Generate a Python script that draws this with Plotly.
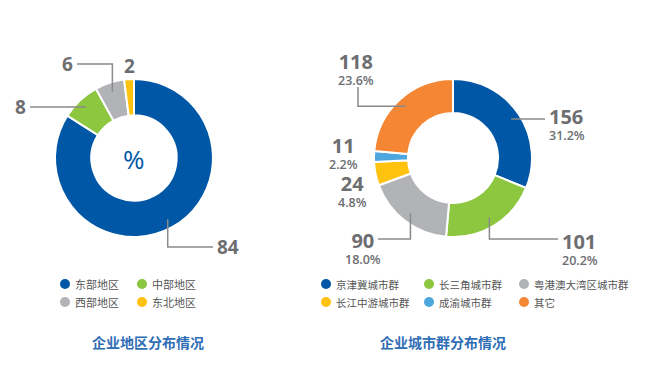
import math
import plotly.graph_objects as go

W, H = 655, 381

# ---------------- data ----------------
regions = ["东部地区", "中部地区", "西部地区", "东北地区"]
region_pct = [84, 8, 6, 2]
region_colors = ["#0057a6", "#8dc63f", "#b1b3b6", "#ffc20e"]

clusters = ["京津冀城市群", "长三角城市群", "粤港澳大湾区城市群", "长江中游城市群", "成渝城市群", "其它"]
cluster_counts = [156, 101, 90, 24, 11, 118]
cluster_pct = [31.2, 20.2, 18.0, 4.8, 2.2, 23.6]
cluster_colors = ["#0057a6", "#8dc63f", "#b1b3b6", "#ffc20e", "#4da6dd", "#f58634"]

titles = ["企业地区分布情况", "企业城市群分布情况"]

# ---------------- layout constants ----------------
LC = (134, 158)   # left donut centre (px)
RC = (453, 158)   # right donut centre (px)
R = 79
TXT = "#6d6e71"
LINE = "#8a8a8a"
FONT = "Open Sans"
CJK = "Noto Sans CJK SC"


def dom(c, r):
    return dict(x=[(c[0] - r) / W, (c[0] + r) / W], y=[1 - (c[1] + r) / H, 1 - (c[1] - r) / H])


fig = go.Figure()
fig.add_trace(go.Pie(labels=regions, values=region_pct, sort=False, direction="clockwise",
                     hole=0.54, textinfo="none", hoverinfo="label+value",
                     marker=dict(colors=region_colors, line=dict(color="white", width=2)),
                     domain=dom(LC, R), showlegend=False))
fig.add_trace(go.Pie(labels=clusters, values=cluster_counts, sort=False, direction="clockwise",
                     hole=0.57, textinfo="none", hoverinfo="label+value",
                     marker=dict(colors=cluster_colors, line=dict(color="white", width=2)),
                     domain=dom(RC, R), showlegend=False))


def mid_points(values, c, r):
    tot = sum(values)
    pts, cum = [], 0
    for v in values:
        a = math.radians((cum + v / 2) / tot * 360)
        pts.append((c[0] + r * math.sin(a), c[1] - r * math.cos(a)))
        cum += v
    return pts


shapes, annos = [], []


def leader(start, route):
    x, y = start
    d = f"M{x},{y}"
    for kind, val in route:
        if kind == "h":
            x = val
        else:
            y = val
        d += f" L{x},{y}"
    shapes.append(dict(type="path", path=d, xref="x", yref="y",
                       line=dict(color=LINE, width=1.5), layer="above"))


def label(x, y, text, size, anchor, weight=700):
    annos.append(dict(x=x, y=y, xref="x", yref="y", text=text, showarrow=False,
                      xanchor=anchor, yanchor="middle", align=anchor if anchor != "center" else "center",
                      font=dict(family=FONT, size=size, color=TXT, weight=weight)))


# left donut leaders / labels
lp = mid_points(region_pct, LC, 70)
left_routes = [[("v", 247), ("h", 213)], [("h", 30)], [("v", 64), ("h", 77)], None]
left_lbl = [(215, 247, "left"), (28, None, "right"), (75, 64, "right"), (129, 66, "center")]
for i, v in enumerate(region_pct):
    if left_routes[i]:
        leader(lp[i], left_routes[i])
    lx, ly, anc = left_lbl[i]
    label(lx, ly if ly is not None else lp[i][1], str(v), 19, anc)

annos.append(dict(x=LC[0], y=LC[1] + 1, xref="x", yref="y", text="%", showarrow=False,
                  font=dict(family=FONT, size=26, color="#0057a6")))

# right donut leaders / labels
rp = mid_points(cluster_counts, RC, 70)
right_routes = [[("h", 545)], [("v", 239), ("h", 558)], [("v", 239), ("h", 378)],
                None, None, [("h", 358), ("v", 87)]]
right_lbl = [(547, None, "left"), (560, 241, "left"), (363, 240, "center"),
             (352, 183, "center"), (343, 145, "center"), (356, 61, "center")]
for i, v in enumerate(cluster_counts):
    if right_routes[i]:
        leader(rp[i], right_routes[i])
    lx, ly, anc = right_lbl[i]
    ly = ly if ly is not None else rp[i][1] - 3
    txt = f"<span style='font-size:20px;font-weight:700'>{v}</span><br>{cluster_pct[i]:.1f}%"
    label(lx, ly + 7, txt, 12.5, anc, weight=600)

# legends
def legend(names, colors, col_x, row_y, ncols, fsize, gap):
    xs, ys = [], []
    for i, n in enumerate(names):
        x = col_x[i % ncols]
        y = row_y[i // ncols]
        xs.append(x)
        ys.append(y)
        annos.append(dict(x=x + gap, y=y, xref="x", yref="y", text=n, showarrow=False,
                          xanchor="left", yanchor="middle",
                          font=dict(family=CJK, size=fsize, color="#555555")))
    fig.add_trace(go.Scatter(x=xs, y=ys, mode="markers", hoverinfo="skip", showlegend=False,
                             marker=dict(size=10, color=colors, line=dict(width=0))))


legend(regions, region_colors, [65, 142], [284, 302], 2, 11, 8)
legend(clusters, cluster_colors, [326, 429, 524], [284, 302], 3, 10.5, 8)

for t, x in zip(titles, [148, 443]):
    annos.append(dict(x=x, y=342, xref="x", yref="y", text=t, showarrow=False,
                      font=dict(family=CJK, size=14, color="#2f6db5", weight=700)))

fig.update_layout(
    width=W, height=H, margin=dict(l=0, r=0, t=0, b=0),
    paper_bgcolor="white", plot_bgcolor="rgba(0,0,0,0)",
    xaxis=dict(range=[0, W], visible=False, domain=[0, 1], fixedrange=True),
    yaxis=dict(range=[H, 0], visible=False, domain=[0, 1], fixedrange=True),
    shapes=shapes, annotations=annos,
)

fig.write_html("out.html", config={"displayModeBar": False},
               post_script="document.body.style.margin='0';")
